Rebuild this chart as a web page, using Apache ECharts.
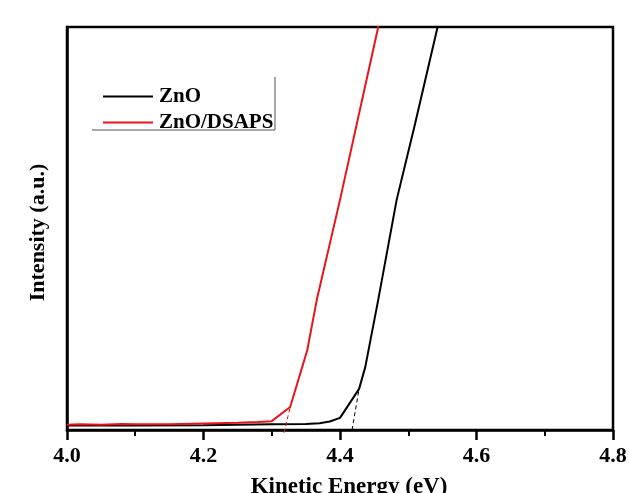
<!DOCTYPE html>
<html style="height: 100%; width:100%">
<head>
    <meta charset="utf-8">
    <script type="text/javascript" src="https://cdn.jsdelivr.net/npm/echarts@6/dist/echarts.min.js"></script>
</head>
<body style="height: 100%; width: 100%; margin: 0; background:#fff">
<div id="container" style="width:629px;height:493px"></div>
<script type="text/javascript">
    // kinetic energy (eV) / intensity (a.u., 0-100 of the frame height)
    var znoEnergy = [4.00, 4.10, 4.20, 4.30, 4.35, 4.37, 4.385, 4.40, 4.428, 4.437, 4.456, 4.483, 4.51, 4.543, 4.56];
    var znoIntensity = [1.1, 1.1, 1.2, 1.4, 1.5, 1.7, 2.1, 3.0, 10.2, 15.6, 32.3, 57.1, 76.0, 100, 112];

    var dsapsEnergy = [4.00, 4.02, 4.05, 4.08, 4.10, 4.15, 4.20, 4.25, 4.28, 4.30, 4.327, 4.352, 4.366, 4.40, 4.456, 4.47];
    var dsapsIntensity = [1.3, 1.4, 1.3, 1.5, 1.4, 1.4, 1.6, 1.8, 2.0, 2.2, 5.7, 19.8, 32.3, 57.1, 100, 111];

    // extrapolated onset lines
    var znoOnset = [[4.4176, 0], [4.428, 10.2]];
    var dsapsOnset = [[4.318, -0.7], [4.327, 5.7]];

    var xTicks = [4.0, 4.2, 4.4, 4.6, 4.8];

    function pairs(xs, ys) {
        var out = [];
        for (var i = 0; i < xs.length; i++) out.push([xs[i], ys[i]]);
        return out;
    }

    var font = "'Liberation Serif', 'Times New Roman', serif";
    var black = "#000000";
    var red = "#e8141b";

    var myChart = echarts.init(document.getElementById("container"));
    var option = {
        backgroundColor: "#ffffff",
        animation: false,
        grid: {
            left: 67, right: 16, top: 27, bottom: 63,
            outerBoundsMode: "none",
            show: true,
            borderColor: "#000",
            borderWidth: 2.5
        },
        legend: {
            data: ["ZnO", "ZnO/DSAPS"],
            orient: "vertical",
            left: 98,
            top: 81,
            icon: "rect",
            itemWidth: 50,
            itemHeight: 2,
            itemGap: 5,
            textStyle: {fontFamily: font, fontWeight: "bold", fontSize: 21, color: "#000", padding: [0, 0, 0, 1]}
        },
        graphic: [{
            type: "polyline",
            shape: {points: [[275, 77], [275, 130], [92, 130]]},
            style: {stroke: "#555", lineWidth: 1, fill: null}
        }],
        xAxis: {
            type: "value",
            min: 4.0,
            max: 4.8,
            interval: 0.2,
            name: "Kinetic Energy (eV)",
            nameLocation: "middle",
            nameGap: 46,
            nameTextStyle: {fontFamily: font, fontWeight: "bold", fontSize: 23, color: "#000", padding: [0, 0, 0, 18]},
            axisLine: {show: true, lineStyle: {color: "#000", width: 2.5}},
            axisTick: {show: true, inside: false, length: 10, lineStyle: {color: "#000", width: 2.5}},
            minorTick: {show: true, splitNumber: 2, length: 6, lineStyle: {color: "#000", width: 2}},
            splitLine: {show: false},
            axisLabel: {
                margin: 15,
                fontFamily: font, fontWeight: "bold", fontSize: 22, color: "#000",
                formatter: function (v) {
                    for (var i = 0; i < xTicks.length; i++) {
                        if (Math.abs(xTicks[i] - v) < 1e-6) return xTicks[i].toFixed(1);
                    }
                    return "";
                }
            }
        },
        yAxis: {
            type: "value",
            min: 0,
            max: 100,
            name: "Intensity (a.u.)",
            nameLocation: "middle",
            nameGap: 18,
            nameTextStyle: {fontFamily: font, fontWeight: "bold", fontSize: 22, color: "#000", padding: [0, 8, 0, 0]},
            axisLine: {show: true, lineStyle: {color: "#000", width: 2.5}},
            axisTick: {show: false},
            axisLabel: {show: false},
            splitLine: {show: false}
        },
        series: [{
            name: "ZnO",
            type: "line",
            data: pairs(znoEnergy, znoIntensity),
            symbol: "none",
            color: black,
            lineStyle: {color: black, width: 2}
        }, {
            name: "ZnO/DSAPS",
            type: "line",
            data: pairs(dsapsEnergy, dsapsIntensity),
            symbol: "none",
            color: red,
            lineStyle: {color: red, width: 2}
        }, {
            name: "ZnO onset",
            type: "line",
            data: znoOnset,
            symbol: "none",
            silent: true,
            lineStyle: {color: black, width: 1, type: [4, 3]}
        }, {
            name: "DSAPS onset",
            type: "line",
            data: dsapsOnset,
            symbol: "none",
            silent: true,
            clip: false,
            lineStyle: {color: red, width: 1, type: [4, 3]}
        }]
    };
    myChart.setOption(option);
</script>
</body>
</html>
